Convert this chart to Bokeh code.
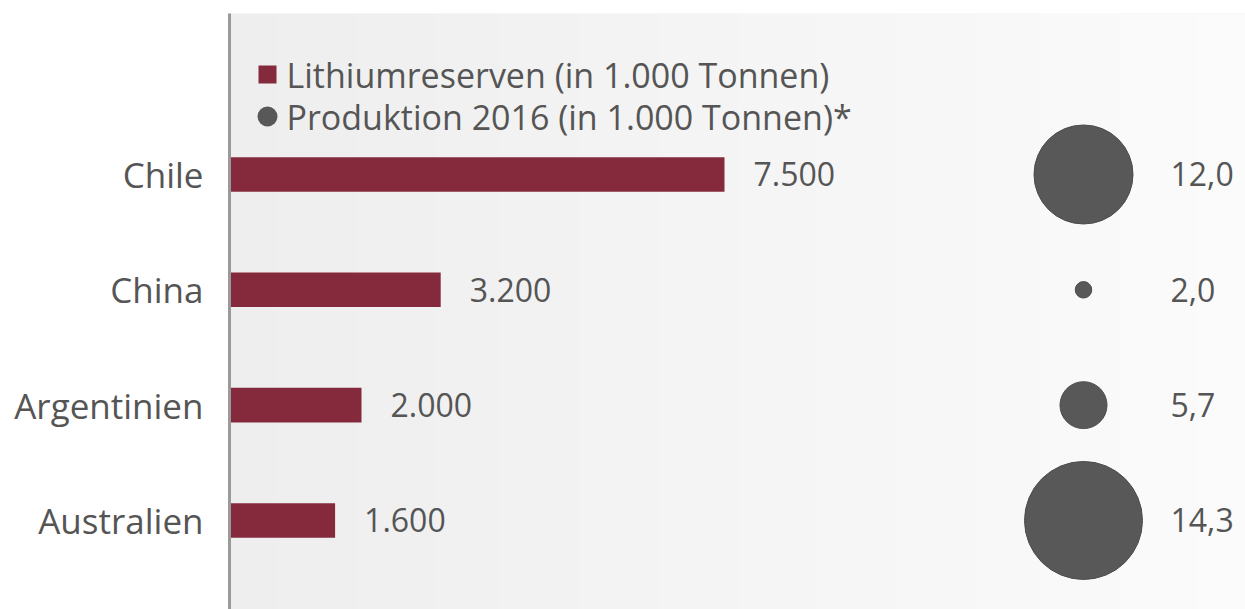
import numpy as np
from bokeh.plotting import figure
from bokeh.models import Range1d, FixedTicker, ColumnDataSource
from bokeh.embed import file_html
from bokeh.resources import INLINE
from bokeh.core.properties import value

# ---- data ----
countries = ["Chile", "China", "Argentinien", "Australien"]
reserves = [7500, 3200, 2000, 1600]          # Lithiumreserven (in 1.000 Tonnen)
production = [12.0, 2.0, 5.7, 14.3]           # Produktion 2016 (in 1.000 Tonnen)
legend_labels = ["Lithiumreserven (in 1.000 Tonnen)",
                 "Produktion 2016 (in 1.000 Tonnen)*"]

# ---- layout constants ----
W, H = 1245, 609
LEFT, TOP = 229, 13
FRAME_W, FRAME_H = W - LEFT, H - TOP
PX_PER_UNIT = 0.066                       # bar scale
X_END = FRAME_W / PX_PER_UNIT
Y_TOP, Y_BOTTOM = -1.396, 3.772
FONT = "Open Sans"
TXT = "#555555"
BAR = "#852a3d"
DOT = "#585858"


def px_x(sx):
    return (sx - LEFT) / PX_PER_UNIT


def px_y(sy):
    return Y_TOP + (sy - TOP) * (Y_BOTTOM - Y_TOP) / FRAME_H


idx = list(range(len(countries)))

def de_int(v):
    return f"{v:,}".replace(",", ".")

def de_dec(v):
    return f"{v:.1f}".replace(".", ",")

src = ColumnDataSource(dict(
    y=idx,
    reserves=reserves,
    res_lbl=[de_int(v) for v in reserves],
    prod=production,
    prod_size=[v * 8.25 for v in production],
    prod_lbl=[de_dec(v) for v in production],
))

p = figure(width=W, height=H,
           x_range=Range1d(0, X_END), y_range=Range1d(Y_BOTTOM, Y_TOP),
           output_backend="svg", toolbar_location=None,
           min_border_left=LEFT, min_border_top=TOP,
           min_border_right=0, min_border_bottom=0)
p.background_fill_color = "#f3f3f3"
p.border_fill_color = "white"
p.outline_line_color = None
p.xgrid.visible = False
p.ygrid.visible = False
p.xaxis.visible = False

# background: soft horizontal gradient (decoration)
n = 64
g0, g1 = 0xEE, 0xFB
row = np.zeros((1, n), dtype=np.uint32)
view = row.view(dtype=np.uint8).reshape((1, n, 4))
for i in range(n):
    c = int(round(g0 + (g1 - g0) * i / (n - 1)))
    view[0, i] = [c, c, c, 255]
p.image_rgba(image=[row], x=0, y=Y_TOP, dw=X_END, dh=(Y_BOTTOM - Y_TOP))

ax = p.yaxis[0]
ax.ticker = FixedTicker(ticks=idx)
ax.major_label_overrides = {i: c for i, c in zip(idx, countries)}
ax.major_tick_line_color = None
ax.minor_tick_line_color = None
ax.axis_line_color = "#9a9a9a"
ax.axis_line_width = 3
ax.major_label_text_font = FONT
ax.major_label_text_font_size = "35px"
ax.major_label_text_color = TXT
ax.major_label_standoff = 20

# bars
p.hbar(y="y", left=0, right="reserves", height=0.3, source=src,
       fill_color=BAR, line_color=None)
p.text(x="reserves", y="y", text="res_lbl", source=src, x_offset=29,
       text_baseline="middle", text_align="left",
       text_font=value(FONT), text_font_size="32px", text_color=TXT)

# production circles
CX = px_x(1083)
p.scatter(x=CX, y="y", size="prod_size", source=src, marker="circle",
          fill_color=DOT, line_color="#4c4c4c", line_width=1)
p.text(x=px_x(1170), y="y", text="prod_lbl", source=src,
       text_baseline="middle", text_align="left",
       text_font=value(FONT), text_font_size="32px", text_color=TXT)

# legend (drawn manually)
p.scatter(x=[px_x(267)], y=[px_y(74)], size=18, marker="square",
          fill_color=BAR, line_color=None)
p.scatter(x=[px_x(267)], y=[px_y(116)], size=20, marker="circle",
          fill_color=DOT, line_color=None)
p.text(x=[px_x(286), px_x(286)], y=[px_y(74), px_y(116)], text=legend_labels,
       text_baseline="middle", text_align="left",
       text_font=value(FONT), text_font_size="34px", text_color=TXT)

open("out.html", "w").write(file_html(p, INLINE))
